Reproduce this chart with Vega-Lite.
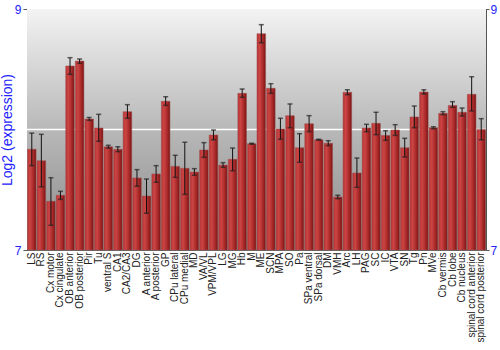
{
  "$schema": "https://vega.github.io/schema/vega-lite/v6.json",
  "width": 459,
  "height": 241,
  "autosize": {"type": "none"},
  "padding": {"left": 27, "top": 9, "right": 14, "bottom": 100},
  "background": "white",
  "config": {
    "view": {"stroke": "#666666", "strokeWidth": 1},
    "font": "Liberation Sans"
  },
  "datasets": {
    "expr": [
      {"region": "LS", "value": 7.836, "lo": 7.70, "hi": 7.97},
      {"region": "RS", "value": 7.741, "lo": 7.525, "hi": 7.96},
      {"region": "Cx motor", "value": 7.404, "lo": 7.205, "hi": 7.60},
      {"region": "Cx cingulate", "value": 7.454, "lo": 7.42, "hi": 7.487},
      {"region": "OB anterior", "value": 8.527, "lo": 8.458, "hi": 8.596},
      {"region": "OB posterior", "value": 8.568, "lo": 8.549, "hi": 8.585},
      {"region": "Pir", "value": 8.087, "lo": 8.076, "hi": 8.10},
      {"region": "Tu", "value": 8.012, "lo": 7.902, "hi": 8.126},
      {"region": "ventral S", "value": 7.857, "lo": 7.846, "hi": 7.869},
      {"region": "CA1", "value": 7.836, "lo": 7.816, "hi": 7.857},
      {"region": "CA2/CA3", "value": 8.148, "lo": 8.093, "hi": 8.206},
      {"region": "DG", "value": 7.598, "lo": 7.529, "hi": 7.667},
      {"region": "A anterior", "value": 7.448, "lo": 7.305, "hi": 7.589},
      {"region": "A posterior", "value": 7.631, "lo": 7.562, "hi": 7.70},
      {"region": "GP", "value": 8.234, "lo": 8.20, "hi": 8.272},
      {"region": "CPu lateral", "value": 7.694, "lo": 7.603, "hi": 7.786},
      {"region": "CPu medial", "value": 7.678, "lo": 7.462, "hi": 7.894},
      {"region": "MD", "value": 7.647, "lo": 7.62, "hi": 7.675},
      {"region": "VA/VL", "value": 7.830, "lo": 7.769, "hi": 7.891},
      {"region": "VPM/VPL", "value": 7.954, "lo": 7.915, "hi": 7.996},
      {"region": "LG", "value": 7.705, "lo": 7.686, "hi": 7.725},
      {"region": "MG", "value": 7.753, "lo": 7.658, "hi": 7.846},
      {"region": "Hb", "value": 8.30, "lo": 8.267, "hi": 8.336},
      {"region": "M", "value": 7.882, "lo": 7.878, "hi": 7.886},
      {"region": "ME", "value": 8.795, "lo": 8.72, "hi": 8.87},
      {"region": "SCN", "value": 8.342, "lo": 8.30, "hi": 8.38},
      {"region": "MPA", "value": 8.004, "lo": 7.919, "hi": 8.093},
      {"region": "SO", "value": 8.115, "lo": 8.015, "hi": 8.212},
      {"region": "Pa", "value": 7.849, "lo": 7.728, "hi": 7.965},
      {"region": "SPa ventral", "value": 8.048, "lo": 7.982, "hi": 8.115},
      {"region": "SPa dorsal", "value": 7.915, "lo": 7.911, "hi": 7.919},
      {"region": "DM", "value": 7.885, "lo": 7.866, "hi": 7.907},
      {"region": "VMH", "value": 7.440, "lo": 7.426, "hi": 7.454},
      {"region": "Arc", "value": 8.309, "lo": 8.289, "hi": 8.33},
      {"region": "LH", "value": 7.639, "lo": 7.52, "hi": 7.763},
      {"region": "PAG", "value": 8.012, "lo": 7.982, "hi": 8.043},
      {"region": "SC", "value": 8.051, "lo": 7.957, "hi": 8.143},
      {"region": "IC", "value": 7.951, "lo": 7.910, "hi": 7.99},
      {"region": "VTA", "value": 7.996, "lo": 7.951, "hi": 8.04},
      {"region": "SN", "value": 7.849, "lo": 7.772, "hi": 7.927},
      {"region": "Tg", "value": 8.104, "lo": 8.015, "hi": 8.195},
      {"region": "Pn", "value": 8.311, "lo": 8.295, "hi": 8.33},
      {"region": "MVe", "value": 8.015, "lo": 8.007, "hi": 8.023},
      {"region": "Cb vermis", "value": 8.134, "lo": 8.123, "hi": 8.148},
      {"region": "Cb lobe", "value": 8.20, "lo": 8.184, "hi": 8.231},
      {"region": "Cb nucleus", "value": 8.143, "lo": 8.112, "hi": 8.178},
      {"region": "spinal cord anterior", "value": 8.292, "lo": 8.154, "hi": 8.438},
      {"region": "spinal cord posterior", "value": 8.001, "lo": 7.915, "hi": 8.09}
    ],
    "one": [{"k": 1}]
  },
  "layer": [
    {
      "data": {"name": "one"},
      "mark": {
        "type": "rect",
        "color": {
          "gradient": "linear",
          "x1": 0, "y1": 0, "x2": 0, "y2": 1,
          "stops": [
            {"offset": 0, "color": "#f3f3f3"},
            {"offset": 0.5, "color": "#b8b8b8"},
            {"offset": 1, "color": "#8a8a8a"}
          ]
        }
      },
      "encoding": {
        "y": {
          "datum": 9,
          "type": "quantitative",
          "scale": {"domain": [7, 9], "zero": false, "nice": false},
          "axis": {
            "orient": "left",
            "values": [7, 8, 9],
            "format": "d",
            "grid": false,
            "title": "Log2 (expression)",
            "titleColor": "#2222ff",
            "titleFont": "Liberation Sans",
            "titleFontSize": 14,
            "titleFontWeight": "normal",
            "titlePadding": 0,
            "labelColor": "#2222ff",
            "labelFont": "Liberation Sans",
            "labelFontSize": 12,
            "labelPadding": 2,
            "tickSize": 4,
            "tickColor": "#555555",
            "domainColor": "#555555"
          }
        },
        "y2": {"datum": 7}
      }
    },
    {
      "data": {"name": "one"},
      "mark": {"type": "rule", "color": "white", "strokeWidth": 1.5},
      "encoding": {"y": {"datum": 8, "type": "quantitative", "axis": null}}
    },
    {
      "data": {"name": "expr"},
      "mark": {
        "type": "bar",
        "color": {
          "gradient": "linear",
          "x1": 0, "y1": 0, "x2": 1, "y2": 0,
          "stops": [
            {"offset": 0, "color": "#b83232"},
            {"offset": 0.3, "color": "#cc4545"},
            {"offset": 0.7, "color": "#a82828"},
            {"offset": 1, "color": "#7a1414"}
          ]
        },
        "stroke": "#9a5050",
        "strokeWidth": 0.5
      },
      "encoding": {
        "x": {
          "field": "region",
          "type": "nominal",
          "sort": null,
          "scale": {"paddingInner": 0.1, "paddingOuter": 0.05},
          "axis": {
            "title": null,
            "labelAngle": -90,
            "labelFont": "Liberation Sans",
            "labelFontSize": 10,
            "labelColor": "#222222",
            "labelPadding": 2,
            "ticks": false,
            "domain": false
          }
        },
        "y": {
          "field": "value",
          "type": "quantitative",
          "axis": {
            "orient": "right",
            "values": [7, 8, 9],
            "format": "d",
            "grid": false,
            "title": null,
            "labelColor": "#2222ff",
            "labelFont": "Liberation Sans",
            "labelFontSize": 12,
            "labelPadding": 1,
            "tickSize": 3,
            "tickColor": "#555555",
            "domainColor": "#555555"
          }
        },
        "y2": {"datum": 7}
      }
    },
    {
      "data": {"name": "expr"},
      "mark": {"type": "rule", "color": "#111111", "strokeWidth": 1},
      "encoding": {
        "x": {"field": "region", "type": "nominal", "sort": null},
        "y": {"field": "lo", "type": "quantitative", "axis": null},
        "y2": {"field": "hi"}
      }
    },
    {
      "data": {"name": "expr"},
      "mark": {"type": "tick", "color": "#222222", "size": 5, "thickness": 1.5},
      "encoding": {
        "x": {"field": "region", "type": "nominal", "sort": null},
        "y": {"field": "lo", "type": "quantitative", "axis": null}
      }
    },
    {
      "data": {"name": "expr"},
      "mark": {"type": "tick", "color": "#222222", "size": 5, "thickness": 1.5},
      "encoding": {
        "x": {"field": "region", "type": "nominal", "sort": null},
        "y": {"field": "hi", "type": "quantitative", "axis": null}
      }
    }
  ],
  "resolve": {"axis": {"y": "independent"}}
}
